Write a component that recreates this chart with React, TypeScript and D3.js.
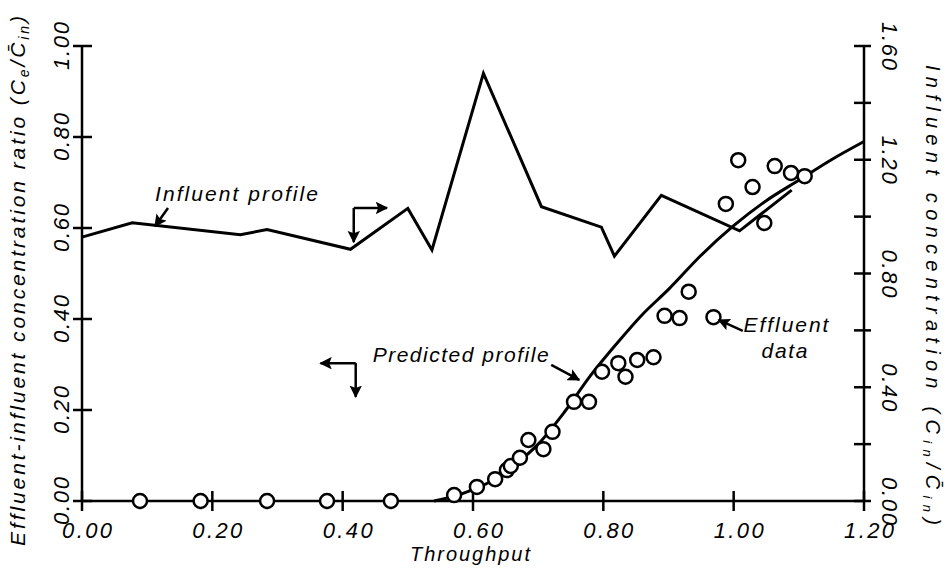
import React from 'react';
import * as d3 from 'd3';

// throughput ticks and the two y axes
const xTicks = [0, 0.2, 0.4, 0.6, 0.8, 1.0, 1.2];
const leftTicks = [0, 0.2, 0.4, 0.6, 0.8, 1.0];
const rightTicks = [0, 0.2, 0.4, 0.6, 0.8, 1.0, 1.2, 1.4, 1.6];
const rightLabelled = [0, 0.4, 0.8, 1.2, 1.6];

// influent profile (right axis units, C_in / mean C_in)
const influentX = [0, 0.077, 0.243, 0.284, 0.412, 0.5, 0.537, 0.616, 0.705, 0.797, 0.817, 0.889, 1.009, 1.089];
const influentY = [0.928, 0.978, 0.936, 0.955, 0.885, 1.029, 0.883, 1.504, 1.035, 0.963, 0.861, 1.075, 0.95, 1.093];

// predicted effluent profile (left axis units)
const predX = [0.54, 0.57, 0.6, 0.63, 0.66, 0.7, 0.74, 0.78, 0.82, 0.86, 0.9, 0.95, 1.0, 1.05, 1.1, 1.15, 1.2];
const predY = [0, 0.01, 0.025, 0.045, 0.075, 0.125, 0.195, 0.275, 0.345, 0.41, 0.465, 0.54, 0.605, 0.66, 0.705, 0.75, 0.79];

// effluent data points
const effX = [0.089, 0.182, 0.284, 0.376, 0.474, 0.571, 0.606, 0.634, 0.652, 0.658, 0.672, 0.685, 0.708, 0.722, 0.755, 0.778, 0.798, 0.823, 0.834, 0.852, 0.877, 0.894, 0.917, 0.931, 0.969, 0.988, 1.007, 1.029, 1.047, 1.063, 1.088, 1.109];
const effY = [0, 0, 0, 0, 0, 0.013, 0.031, 0.048, 0.068, 0.077, 0.095, 0.134, 0.114, 0.152, 0.218, 0.218, 0.284, 0.303, 0.273, 0.31, 0.316, 0.407, 0.402, 0.46, 0.404, 0.653, 0.749, 0.69, 0.611, 0.736, 0.721, 0.714];

const FONT = '"Liberation Sans", Arial, sans-serif';

const x = d3.scaleLinear().domain([0, 1.2]).range([82, 864]);
const yL = d3.scaleLinear().domain([0, 1]).range([501, 46]);
const yR = d3.scaleLinear().domain([0, 1.6]).range([501, 46]);

const fmt = d3.format('.2f');

const Arrow = ({ from, to }: { from: [number, number]; to: [number, number] }) => (
	<line
		x1={x(from[0])}
		y1={yL(from[1])}
		x2={x(to[0])}
		y2={yL(to[1])}
		stroke="#000"
		strokeWidth={2.5}
		markerEnd="url(#head)"
	/>
);

export default function App() {
	const influentLine = d3
		.line<number>()
		.x((d, i) => x(influentX[i]))
		.y((d) => yR(d));
	const predLine = d3
		.line<number>()
		.x((d, i) => x(predX[i]))
		.y((d) => yL(d))
		.curve(d3.curveMonotoneX);

	return (
		<svg
			width={946}
			height={570}
			style={{ position: 'absolute', left: 0, top: 0, background: '#fff' }}
			fontFamily={FONT}
			fontStyle="italic"
		>
			<defs>
				<marker id="head" viewBox="0 0 10 10" refX="9" refY="5" markerWidth="5" markerHeight="5" orient="auto">
					<path d="M0,0 L10,5 L0,10 L2,5 Z" fill="#000" />
				</marker>
			</defs>

			{/* axes */}
			<g stroke="#000" strokeWidth={2.5} fill="none">
				<line x1={x(0)} x2={x(1.2)} y1={yL(0)} y2={yL(0)} />
				<line x1={x(0)} x2={x(0)} y1={yL(0)} y2={yL(1)} />
				<line x1={x(1.2)} x2={x(1.2)} y1={yR(0)} y2={yR(1.6)} />
				{xTicks.map((t) => (
					<line key={'xt' + t} x1={x(t)} x2={x(t)} y1={yL(0) - 10} y2={yL(0) + 10} />
				))}
				{leftTicks.map((t) => (
					<line key={'lt' + t} x1={x(0) - 9} x2={x(0) + 10} y1={yL(t)} y2={yL(t)} />
				))}
				{rightTicks.map((t) => (
					<line key={'rt' + t} x1={x(1.2) - 10} x2={x(1.2) + 7} y1={yR(t)} y2={yR(t)} />
				))}
			</g>

			{/* tick labels */}
			<g fontSize={22} fill="#000">
				{xTicks.map((t) => (
					<text key={'xl' + t} x={x(t) + 5} y={538} textAnchor="middle" textLength={50} lengthAdjust="spacing">
						{fmt(t)}
					</text>
				))}
				{leftTicks.map((t) => (
					<text
						key={'ll' + t}
						transform={`translate(69,${yL(t)}) rotate(-90)`}
						textAnchor="middle"
						textLength={48}
						lengthAdjust="spacing"
					>
						{fmt(t)}
					</text>
				))}
				{rightLabelled.map((t) => (
					<text
						key={'rl' + t}
						transform={`translate(882,${yR(t)}) rotate(90)`}
						textAnchor="middle"
						textLength={48}
						lengthAdjust="spacing"
					>
						{fmt(t)}
					</text>
				))}
			</g>

			{/* axis titles */}
			<text x={470} y={561} fontSize={20} textAnchor="middle" textLength={120} lengthAdjust="spacing">
				Throughput
			</text>
			<text transform="translate(25,281) rotate(-90)" fontSize={21} textAnchor="middle" textLength={530} lengthAdjust="spacing">
				{'Effluent-influent concentration ratio (C'}
				<tspan fontSize={14} dy={4}>e</tspan>
				<tspan dy={-4}>{'/C\u0304'}</tspan>
				<tspan fontSize={14} dy={4}>in</tspan>
				<tspan dy={-4}>)</tspan>
			</text>
			<text transform="translate(926,295) rotate(90)" fontSize={20} textAnchor="middle" textLength={460} lengthAdjust="spacing">
				{'Influent concentration (C'}
				<tspan fontSize={13} dy={3}>in</tspan>
				<tspan dy={-3}>{'/C\u0304'}</tspan>
				<tspan fontSize={13} dy={3}>in</tspan>
				<tspan dy={-3}>)</tspan>
			</text>

			{/* influent profile */}
			<path d={influentLine(influentY) ?? ''} fill="none" stroke="#000" strokeWidth={3} strokeLinejoin="miter" />

			{/* predicted profile */}
			<path d={predLine(predY) ?? ''} fill="none" stroke="#000" strokeWidth={3} />

			{/* effluent data */}
			<g fill="#fff" stroke="#000" strokeWidth={2.5}>
				{effY.map((v, i) => (
					<circle key={'c' + i} cx={x(effX[i])} cy={yL(v)} r={7} />
				))}
			</g>

			{/* annotations */}
			<g fontSize={21} fill="#000">
				<text x={x(0.112)} y={yL(0.66)} textLength={163} lengthAdjust="spacing">
					Influent profile
				</text>
				<text x={x(0.446)} y={yL(0.305)} textLength={176} lengthAdjust="spacing">
					Predicted profile
				</text>
				<text x={x(1.015)} y={yL(0.371)} textLength={85} lengthAdjust="spacing">
					Effluent
				</text>
				<text x={x(1.078)} y={yL(0.314)} textAnchor="middle" textLength={46} lengthAdjust="spacing">
					data
				</text>
			</g>
			<Arrow from={[0.132, 0.644]} to={[0.112, 0.604]} />
			<Arrow from={[0.72, 0.299]} to={[0.763, 0.266]} />
			<Arrow from={[1.014, 0.374]} to={[0.977, 0.398]} />
			{/* direction markers: which axis each curve is read on */}
			<line x1={x(0.417)} y1={yL(0.644)} x2={x(0.417)} y2={yL(0.569)} stroke="#000" strokeWidth={2.5} markerEnd="url(#head)" />
			<line x1={x(0.417)} y1={yL(0.644)} x2={x(0.468)} y2={yL(0.644)} stroke="#000" strokeWidth={2.5} markerEnd="url(#head)" />
			<line x1={x(0.42)} y1={yL(0.303)} x2={x(0.366)} y2={yL(0.303)} stroke="#000" strokeWidth={2.5} markerEnd="url(#head)" />
			<line x1={x(0.42)} y1={yL(0.303)} x2={x(0.42)} y2={yL(0.229)} stroke="#000" strokeWidth={2.5} markerEnd="url(#head)" />
		</svg>
	);
}
